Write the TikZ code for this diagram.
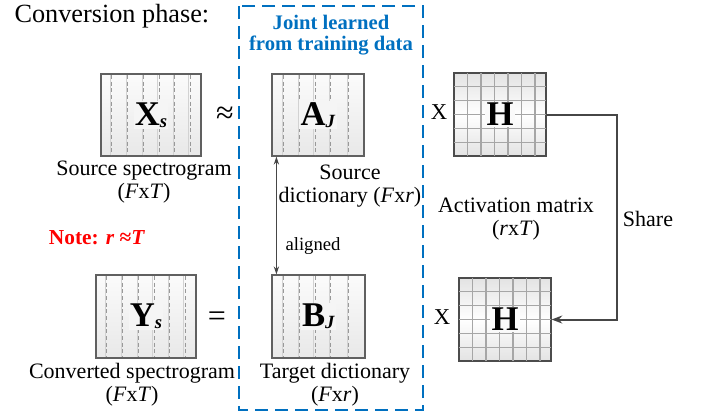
\documentclass[tikz,border=0pt]{standalone}
\usepackage{fontspec}
\setmainfont{Liberation Serif}
\usetikzlibrary{arrows.meta,calc}

\definecolor{jointblue}{RGB}{0,112,192}
\definecolor{noteRed}{RGB}{255,0,0}
\definecolor{linkGray}{RGB}{70,70,70}

\newcommand{\matlbl}[2]{\textbf{#1}\raisebox{-1.5pt}{\fontsize{14}{14}\selectfont\textbf{\textit{#2}}}}

\tikzset{every picture/.style={line width=0.75pt}}
\tikzset{
  specbox/.style={draw=gray!75!black, line width=0.9pt, top color=gray!3, bottom color=gray!18, inner sep=0pt},
  gridbox/.style={draw=gray!60!black, line width=0.9pt, top color=gray!22, bottom color=gray!22, middle color=white, inner sep=0pt},
  lbl/.style={fill=gray!8, inner sep=1pt, font=\fontsize{26}{28}\selectfont},
  txt/.style={font=\fontsize{16.5}{17.3}\selectfont, align=center, inner sep=0pt},
  jointbox/.style={draw=jointblue, line width=1pt, dash pattern=on 10pt off 5pt},
}

\begin{document}
\begin{tikzpicture}[x=0.75pt,y=0.75pt,yscale=-1,xscale=1]
\useasboundingbox (0,0) rectangle (701,412);

% joint learned region
\draw [jointbox] (239,6) rectangle (423,410) ;
\node [txt, text=jointblue, font=\fontsize{15.5}{16}\selectfont\bfseries] (joint) at (331,35) {Joint learned\\from training data};

\node [anchor=west, inner sep=0pt, font=\fontsize{19.7}{22}\selectfont] (phase) at (14,16) {Conversion phase:};

% spectrogram and dictionary boxes
\node [specbox, minimum width=75pt, minimum height=61.5pt] (Xs) at (151,115) {};
\node [specbox, minimum width=75pt, minimum height=62.25pt] (Ys) at (146,316.5) {};
\node [specbox, minimum width=69pt, minimum height=61.5pt] (AJ) at (318,115) {};
\node [specbox, minimum width=69.75pt, minimum height=62.25pt] (BJ) at (318.5,316.5) {};

\foreach \x in {111.7,127.7,143.3,159,174.3,190} {
  \draw [gray!35, line width=0.5pt] (\x-1.3,75) -- (\x-1.3,155) ;
  \draw [gray!80, densely dashed, line width=0.5pt] (\x,75) -- (\x,155) ;
  \draw [gray!35, line width=0.5pt] (\x-6.3,276) -- (\x-6.3,357) ;
  \draw [gray!80, densely dashed, line width=0.5pt] (\x-5,276) -- (\x-5,357) ;
}
\foreach \x in {283.3,299.3,315,330.7,348.3} {
  \draw [gray!35, line width=0.5pt] (\x-1.3,75) -- (\x-1.3,155) ;
  \draw [gray!80, densely dashed, line width=0.5pt] (\x,75) -- (\x,155) ;
  \draw [gray!35, line width=0.5pt] (\x-1.3,276) -- (\x-1.3,357) ;
  \draw [gray!80, densely dashed, line width=0.5pt] (\x,276) -- (\x,357) ;
}

% activation matrices
\node [gridbox, minimum width=69pt, minimum height=62.25pt] (H1) at (500,114.5) {};
\node [gridbox, minimum width=69pt, minimum height=62.25pt] (H2) at (505,319.5) {};
\foreach \i in {1,...,6} {
  \draw [gray!70, line width=0.9pt] (454+\i*13.5,73) -- (454+\i*13.5,156) ;
  \draw [gray!70, line width=0.9pt] (459+\i*13.5,278) -- (459+\i*13.5,361) ;
}
\foreach \j in {1,...,5} {
  \draw [gray!70, line width=0.9pt] (454,73+\j*13.83) -- (546,73+\j*13.83) ;
  \draw [gray!70, line width=0.9pt] (459,278+\j*13.83) -- (551,278+\j*13.83) ;
}

% matrix labels
\node [lbl] (XsL) at (Xs) {\matlbl{X}{s}};
\node [lbl] (YsL) at (Ys) {\matlbl{Y}{s}};
\node [lbl] (AJL) at (AJ) {\matlbl{A}{J}};
\node [lbl] (BJL) at (BJ) {\matlbl{B}{J}};
\node [lbl, fill=gray!4] (H1L) at (H1) {\textbf{H}};
\node [lbl, fill=gray!4] (H2L) at (H2) {\textbf{H}};

% operators
\node [font=\fontsize{24}{26}\selectfont] (approx) at (225,115) {≈};
\node [font=\fontsize{24}{26}\selectfont] (equal) at (217,319) {=};
\node [txt, font=\fontsize{17}{18}\selectfont] (times1) at (439,112) {X};
\node [txt, font=\fontsize{17}{18}\selectfont] (times2) at (442,317) {X};

% captions
\node [txt] (srcCap) at (144,182) {Source spectrogram\\(\textit{F}x\textit{T})};
\node [txt] (dicCap) at (350,186) {Source\\dictionary (\textit{F}x\textit{r})};
\node [txt] (cnvCap) at (132,385) {Converted spectrogram\\(\textit{F}x\textit{T})};
\node [txt] (tgtCap) at (335,385) {Target dictionary\\(\textit{F}x\textit{r})};
\node [txt] (actCap) at (516,219) {Activation matrix\\(\textit{r}x\textit{T})};
\node [txt] (share) at (648,219) {Share};
\node [txt, text=noteRed, font=\fontsize{16}{17}\selectfont\bfseries] (note) at (97,238) {Note: \textit{r} ≈\textit{T}};
\node [txt, font=\fontsize{14}{15}\selectfont] (aligned) at (313,246) {aligned};

% connectors
\draw [linkGray, line width=0.75pt, {Stealth[length=6pt,width=4pt]}-{Stealth[length=6pt,width=4pt]}] ($(AJ.south west)+(5,0)$) -- ($(BJ.north west)+(5,0)$) ;
\draw [linkGray, line width=1.5pt, -{Stealth[length=8pt,width=6pt]}] (H1.east) -- ++(70,0) |- (H2.east) ;

\end{tikzpicture}
\end{document}
